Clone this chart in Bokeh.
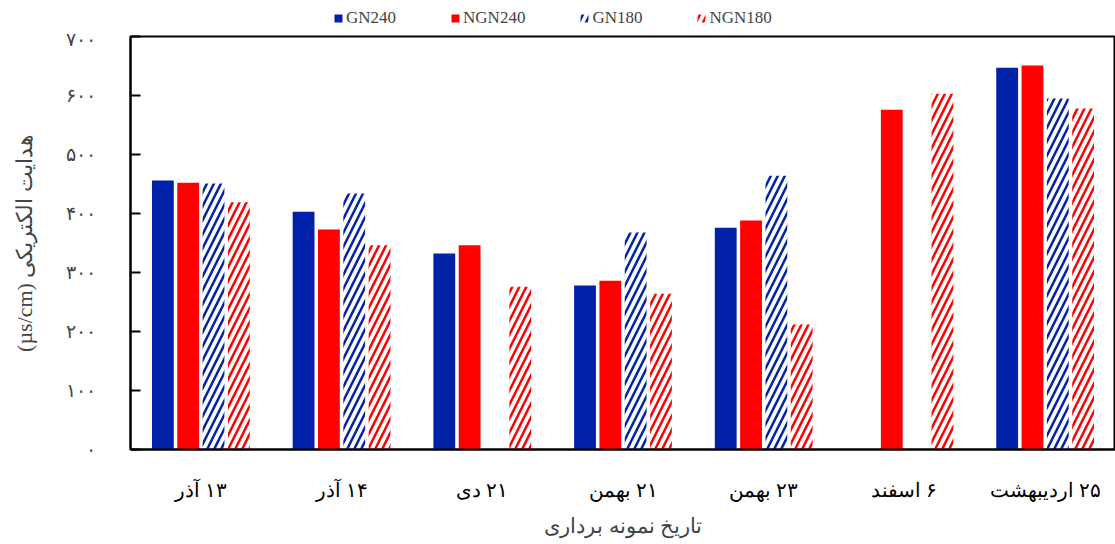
import numpy as np
from bokeh.plotting import figure
from bokeh.layouts import column
from bokeh.models import (ColumnDataSource, FactorRange, Range1d, FixedTicker,
                          Legend, LegendItem)
from bokeh.transform import dodge
from bokeh.embed import file_html
from bokeh.resources import INLINE

RLM = "\u200f"
dates = ["۱۳ آذر", "۱۴ آذر", "۲۱ دی", "۲۱ بهمن", "۲۳ بهمن", "۶ اسفند", "۲۵ اردیبهشت"]
series = ["GN240", "NGN240", "GN180", "NGN180"]
gn240 = [456, 403, 332, 278, 376, np.nan, 647]
ngn240 = [452, 373, 346, 286, 388, 576, 651]
gn180 = [451, 434, np.nan, 368, 464, np.nan, 595]
ngn180 = [419, 346, 276, 264, 212, 603, 578]
y_ticks = [0, 100, 200, 300, 400, 500, 600, 700]
y_tick_labels = ["۰", "۱۰۰", "۲۰۰", "۳۰۰", "۴۰۰", "۵۰۰", "۶۰۰", "۷۰۰"]

labels = [RLM + d for d in dates]
src = ColumnDataSource(dict(x=labels, GN240=gn240, NGN240=ngn240, GN180=gn180, NGN180=ngn180))

BLUE = "#0022A8"
RED = "#FF0000"
SERIF = "Liberation Serif"

styles = [
    dict(fill_color=BLUE, line_color=None),
    dict(fill_color=RED, line_color=None),
    dict(fill_color=None, line_color=None, hatch_pattern="right_diagonal_line",
         hatch_color=BLUE, hatch_weight=2.5, hatch_scale=14),
    dict(fill_color=None, line_color=None, hatch_pattern="right_diagonal_line",
         hatch_color=RED, hatch_weight=2.5, hatch_scale=14),
]

xr = FactorRange(*labels, range_padding=0)
p = figure(width=1115, height=516, x_range=xr,
           y_range=Range1d(0, 700), output_backend="svg", toolbar_location=None,
           min_border_left=130, min_border_right=0, min_border_bottom=95, min_border_top=8)
p.outline_line_color = "black"
p.outline_line_width = 2
p.xgrid.grid_line_color = None
p.ygrid.grid_line_color = None

w = 0.155
offs = [-0.27, -0.09, 0.09, 0.27]
for s, o, st in zip(series, offs, styles):
    p.vbar(x=dodge("x", o, range=xr), top=s, width=w, source=src, **st)

xa = p.xaxis[0]
xa.axis_line_width = 2
xa.major_tick_line_color = None
xa.minor_tick_line_color = None
xa.major_label_text_font = SERIF
xa.major_label_text_font_size = "20px"
xa.major_label_text_color = "black"
xa.major_label_standoff = 23
xa.axis_label = "تاریخ نمونه برداری"
xa.axis_label_text_font = SERIF
xa.axis_label_text_font_style = "normal"
xa.axis_label_text_font_size = "21px"
xa.axis_label_standoff = 10

ya = p.yaxis[0]
ya.ticker = FixedTicker(ticks=y_ticks)
ya.major_label_overrides = {t: l for t, l in zip(y_ticks, y_tick_labels)}
ya.axis_line_width = 2
ya.major_tick_in = 10
ya.major_tick_out = 0
ya.major_tick_line_width = 2
ya.minor_tick_line_color = None
ya.major_label_text_font = SERIF
ya.major_label_text_font_size = "19px"
ya.major_label_standoff = 35
ya.axis_label = "(µs/cm) هدایت الکتریکی"
ya.axis_label_text_font = SERIF
ya.axis_label_text_font_style = "normal"
ya.axis_label_text_font_size = "22px"
ya.axis_label_standoff = 26

# legend strip above the chart: zero-height proxy bars, far outside its y range
lg = figure(width=1115, height=28, x_range=xr, y_range=Range1d(10000, 10001),
            output_backend="svg", toolbar_location=None, x_axis_type=None,
            y_axis_type=None, min_border=0)
lg.outline_line_color = None
lg.xgrid.grid_line_color = None
lg.ygrid.grid_line_color = None
proxies = [lg.vbar(x=dodge("x", o, range=xr), top=s, bottom=s, width=w, source=src, **st)
           for s, o, st in zip(series, offs, styles)]
legend = Legend(items=[LegendItem(label=s, renderers=[r]) for s, r in zip(series, proxies)],
                orientation="horizontal", location=(203, 0),
                label_text_font=SERIF, label_text_font_size="17px",
                glyph_width=10, glyph_height=10, label_standoff=3, spacing=54,
                padding=4, margin=0, border_line_color=None, background_fill_alpha=0,
                label_height=18)
lg.add_layout(legend, "center")

layout = column(lg, p, spacing=0)
open("out.html", "w").write(file_html(layout, INLINE))
